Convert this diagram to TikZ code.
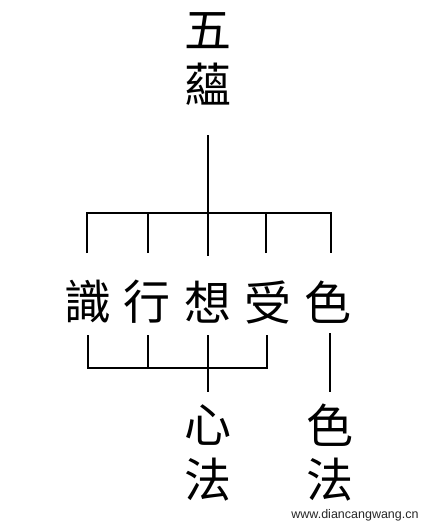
\documentclass[tikz,border=0pt]{standalone}
\usepackage{fontspec}
\setmainfont{Liberation Sans}
\newfontfamily\cjk{Noto Sans CJK TC}
\begin{document}
\begin{tikzpicture}[x=1pt,y=-1pt]
    \tikzset{zi/.style = {font=\cjk\fontsize{47}{47}\selectfont, inner sep = 0pt}, edge/.style = {line width=2.8pt}}
    \useasboundingbox (0,0) rectangle (427,528);
    \def\r{302}
     \node[zi] (wu) at (208,31) {五};
     \node[zi] (yun) at (208,84) {蘊};
     \foreach \n/\xx/\c in {shi/88/識, xing/147/行, xiang/208/想, shou/268/受, se/328/色}
        \node[zi] (\n) at (\xx,\r) {\c};
     \node[zi] (xin) at (208,425) {心};
     \node[zi] (xinfa) at (208,480) {法};
     \node[zi] (seb) at (330,425) {色};
     \node[zi] (sefa) at (330,480) {法};
     \node[font=\fontsize{12.5}{12.5}\selectfont, text=black!85, inner sep=0pt] (site) at (355,515) {www.diancangwang.cn};

     \coordinate (root) at (208,135);
     \coordinate (shi-t) at (87,253);
     \coordinate (xing-t) at (148,253);
     \coordinate (xiang-t) at (208,256);
     \coordinate (shou-t) at (266,253);
     \coordinate (se-t) at (331,253);
     \coordinate (shi-b) at (88,335);
     \coordinate (xing-b) at (148,335);
     \coordinate (xiang-b) at (208,335);
     \coordinate (shou-b) at (267,335);
     \coordinate (se-b) at (330,333);
     \coordinate (xin-t) at (208,392);
     \coordinate (seb-t) at (330,392);

     \draw[edge](root) --(xiang-t);
     \draw[edge](shi-t) -- ++(0,-40) -| (se-t);
     \draw[edge](xing-t) -- ++(0,-40);
     \draw[edge](shou-t) -- ++(0,-40);
     \draw[edge](shi-b) -- ++(0,33) -| (shou-b);
     \draw[edge](xing-b) -- ++(0,33);
     \draw[edge](xiang-b) --(xin-t);
     \draw[edge](se-b) --(seb-t);
\end{tikzpicture}
\end{document}
